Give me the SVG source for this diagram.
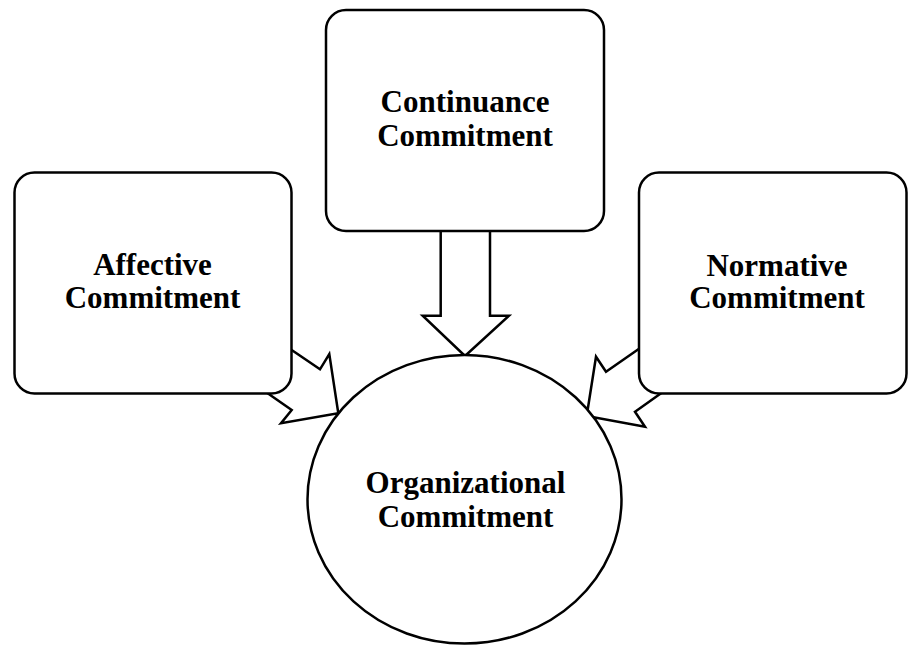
<svg xmlns="http://www.w3.org/2000/svg" width="908" height="646" viewBox="0 0 908 646">
  <style>
    .shape { fill: #ffffff; stroke: #000000; stroke-width: 2.5; stroke-linejoin: miter; }
    .label { font-family: "Liberation Serif", "Times New Roman", serif; font-weight: bold; font-size: 31px; fill: #000000; text-anchor: middle; }
  </style>
  <rect width="908" height="646" fill="#ffffff"/>

  <!-- block arrows, drawn beneath the boxes -->
  <g id="connectors">
    <polygon class="shape" points="263.7,331 320,369.3 329.3,354 338.3,413.3 281,423.3 291.7,410 240,374"/>
    <polygon class="shape" points="440.7,200 490,200 490,315.7 509,315.7 465,356 422.7,315.7 440.7,315.7"/>
    <polygon class="shape" points="666,330 606,371.7 596,356.7 586.7,416 645,426.7 635,411.7 688,374"/>
  </g>

  <g id="affective">
    <rect class="shape" x="14.5" y="172.5" width="277" height="221" rx="20" ry="20"/>
    <text class="label" x="152.5" y="275">Affective</text>
    <text class="label" x="152.5" y="308">Commitment</text>
  </g>

  <g id="continuance">
    <rect class="shape" x="326" y="10" width="278" height="221" rx="20" ry="20"/>
    <text class="label" x="465" y="111.5">Continuance</text>
    <text class="label" x="465" y="145.5">Commitment</text>
  </g>

  <g id="normative">
    <rect class="shape" x="639" y="172.5" width="267.5" height="221" rx="20" ry="20"/>
    <text class="label" x="777" y="276">Normative</text>
    <text class="label" x="777" y="308">Commitment</text>
  </g>

  <g id="organizational">
    <ellipse class="shape" cx="464.5" cy="499.3" rx="157" ry="144.3"/>
    <text class="label" x="465.5" y="493">Organizational</text>
    <text class="label" x="465.5" y="527">Commitment</text>
  </g>
</svg>
